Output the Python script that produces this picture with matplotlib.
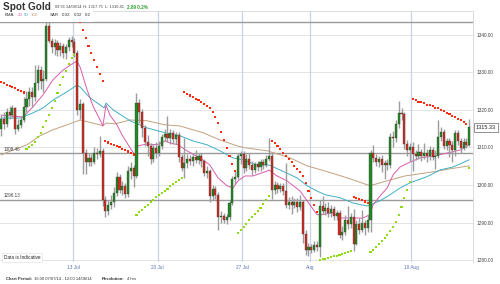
import matplotlib
matplotlib.use('Agg')
import matplotlib.pyplot as plt
import matplotlib.transforms as mtrans
from matplotlib.patches import Rectangle

plt.rcParams['font.family'] = ['Liberation Sans', 'DejaVu Sans']

# ---------------- data ----------------
opens = [1314.8,1317.5,1316.2,1319.5,1318.6,1320.4,1315.0,1316.0,1317.4,1320.8,
         1322.8,1324.8,1323.4,1327.2,1330.6,1327.8,1328.3,1342.4,1338.4,1336.6,
         1337.8,1335.8,1337.0,1335.2,1336.8,1338.5,1338.0,1335.0,1320.0,1321.5,
         1308.5,1306.0,1307.2,1306.2,1308.6,1308.3,1309.0,1296.0,1293.2,1294.8,
         1295.5,1297.8,1302.2,1298.6,1299.8,1297.6,1303.8,1304.6,1302.5,1321.8,
         1319.5,1315.2,1311.5,1310.4,1306.8,1309.8,1308.6,1310.4,1312.8,1313.6,
         1312.4,1313.8,1312.2,1313.4,1307.4,1304.6,1305.8,1307.0,1306.4,1307.4,
         1306.6,1307.6,1306.4,1303.2,1303.6,1297.0,1298.8,1297.4,1291.4,1291.8,
         1290.8,1291.4,1295.2,1301.6,1302.2,1307.6,1308.2,1304.6,1306.8,1305.2,
         1304.0,1305.6,1304.8,1306.2,1305.4,1307.0,1307.8,1298.6,1300.0,1299.0,
         1299.6,1298.4,1294.8,1295.6,1294.6,1295.4,1294.2,1295.4,1287.0,1282.6,
         1283.4,1282.8,1284.0,1283.6,1294.4,1293.2,1294.0,1292.6,1293.6,1291.8,
         1292.6,1286.6,1287.6,1290.6,1289.6,1291.6,1284.4,1289.6,1288.0,1289.8,
         1288.6,1290.8,1308.4,1307.2,1306.0,1306.8,1305.4,1305.8,1305.2,1312.8,
         1312.4,1316.2,1319.2,1318.8,1311.0,1309.4,1310.2,1308.2,1307.6,1308.8,
         1307.8,1308.6,1307.8,1309.2,1307.4,1307.8,1312.8,1314.2,1310.4,1311.6,
         1310.6,1309.2,1313.8,1311.8,1309.8,1311.4,1310.6]
highs = [1318.5,1319.5,1320.5,1321.0,1321.4,1320.8,1317.6,1318.2,1323.4,1325.0,
         1326.0,1326.2,1331.8,1332.0,1331.6,1330.5,1343.5,1344.0,1339.2,1338.8,
         1338.6,1338.0,1337.8,1337.6,1339.4,1339.6,1339.0,1336.0,1323.0,1322.0,
         1309.5,1308.6,1308.2,1310.0,1309.8,1313.0,1309.8,1297.0,1296.0,1297.2,
         1299.5,1303.5,1303.0,1301.0,1300.6,1305.0,1306.0,1305.4,1324.5,1322.8,
         1320.2,1316.0,1313.2,1311.2,1311.0,1311.5,1311.6,1313.6,1315.0,1318.4,
         1314.8,1314.6,1314.2,1314.0,1308.2,1312.6,1308.2,1308.0,1308.6,1309.4,
         1308.4,1308.4,1307.0,1305.0,1304.2,1300.0,1299.6,1298.2,1293.0,1292.6,
         1292.2,1296.0,1302.4,1303.6,1308.4,1309.0,1309.0,1308.2,1308.6,1306.4,
         1306.2,1306.4,1307.0,1307.0,1308.0,1312.4,1308.6,1301.0,1300.8,1300.6,
         1300.4,1305.8,1296.8,1297.0,1296.6,1296.4,1297.2,1296.0,1288.0,1284.6,
         1284.2,1285.0,1285.2,1296.0,1297.0,1295.2,1295.4,1294.8,1294.4,1293.4,
         1293.4,1289.0,1292.0,1294.4,1292.6,1293.6,1290.6,1291.2,1293.4,1290.8,
         1292.0,1309.2,1310.6,1308.2,1307.8,1308.0,1306.6,1306.8,1313.8,1314.4,
         1317.2,1322.4,1320.4,1319.4,1312.0,1311.2,1311.4,1309.4,1310.8,1309.6,
         1311.2,1309.6,1310.4,1310.2,1309.2,1317.2,1315.4,1315.0,1312.6,1312.4,
         1311.6,1314.6,1314.6,1312.6,1312.4,1312.4,1317.6]
lows = [1313.0,1315.0,1315.5,1317.5,1317.8,1313.5,1314.3,1315.2,1316.8,1319.5,
        1321.0,1320.8,1322.4,1325.2,1325.6,1324.8,1327.8,1337.8,1335.2,1334.5,
        1334.4,1334.2,1333.8,1333.5,1335.6,1336.8,1334.0,1318.5,1317.5,1302.8,
        1303.0,1305.0,1305.0,1305.5,1306.8,1307.5,1294.5,1291.5,1292.0,1293.5,
        1294.2,1297.0,1297.8,1297.2,1296.4,1296.8,1301.5,1299.5,1301.8,1316.5,
        1312.8,1310.5,1307.8,1305.5,1306.2,1307.2,1307.8,1309.6,1311.8,1311.5,
        1311.0,1310.8,1311.0,1306.2,1303.6,1301.8,1304.6,1305.4,1305.0,1305.8,
        1305.6,1304.8,1302.4,1301.8,1295.6,1296.0,1296.2,1288.0,1289.8,1289.8,
        1289.6,1290.8,1294.6,1300.2,1301.6,1305.6,1303.2,1303.6,1304.2,1302.6,
        1303.2,1303.8,1303.6,1304.2,1304.8,1306.4,1296.2,1297.6,1297.8,1298.0,
        1297.4,1294.0,1293.6,1292.4,1293.8,1292.8,1293.4,1284.6,1281.4,1281.2,
        1281.8,1282.2,1282.4,1280.8,1292.4,1292.0,1291.6,1291.4,1290.8,1290.6,
        1285.8,1285.4,1286.6,1288.4,1288.6,1282.4,1284.0,1287.0,1287.4,1286.8,
        1287.6,1287.6,1306.0,1305.0,1304.8,1303.4,1301.6,1304.0,1304.6,1310.0,
        1311.4,1315.2,1317.4,1309.6,1307.6,1306.4,1303.6,1306.6,1306.8,1306.4,
        1307.0,1306.2,1306.6,1306.6,1304.2,1307.2,1311.6,1309.6,1309.2,1307.4,
        1306.2,1307.6,1310.6,1308.6,1309.2,1309.8,1310.4]
closes = [1317.5,1316.2,1319.5,1318.6,1320.4,1315.0,1316.0,1317.4,1320.8,1322.8,
          1324.8,1323.4,1327.2,1330.6,1327.8,1328.3,1342.4,1338.4,1336.6,1337.8,
          1335.8,1337.0,1335.2,1336.8,1338.5,1338.0,1335.0,1320.0,1321.5,1308.5,
          1306.0,1307.2,1306.2,1308.6,1308.3,1309.0,1296.0,1293.2,1294.8,1295.5,
          1297.8,1302.2,1298.6,1299.8,1297.6,1303.8,1304.6,1302.5,1321.8,1319.5,
          1315.2,1311.5,1310.4,1306.8,1309.8,1308.6,1310.4,1312.8,1313.6,1312.4,
          1313.8,1312.2,1313.4,1307.4,1304.6,1305.8,1307.0,1306.4,1307.4,1306.6,
          1307.6,1306.4,1303.2,1303.6,1297.0,1298.8,1297.4,1291.4,1291.8,1290.8,
          1291.4,1295.2,1301.6,1302.2,1307.6,1308.2,1304.6,1306.8,1305.2,1304.0,
          1305.6,1304.8,1306.2,1305.4,1307.0,1307.8,1298.6,1300.0,1299.0,1299.6,
          1298.4,1294.8,1295.6,1294.6,1295.4,1294.2,1295.4,1287.0,1282.6,1283.4,
          1282.8,1284.0,1283.6,1294.4,1293.2,1294.0,1292.6,1293.6,1291.8,1292.6,
          1286.6,1287.6,1290.6,1289.6,1291.6,1284.4,1289.6,1288.0,1289.8,1288.6,
          1290.8,1308.4,1307.2,1306.0,1306.8,1305.4,1305.8,1305.2,1312.8,1312.4,
          1316.2,1319.2,1318.8,1311.0,1309.4,1310.2,1308.2,1307.6,1308.8,1307.8,
          1308.6,1307.8,1309.2,1307.4,1307.8,1312.8,1314.2,1310.4,1311.6,1310.6,
          1309.2,1313.8,1311.8,1309.8,1311.4,1310.6,1315.33]
sar = [1327.4,1327.1,1326.7,1326.4,1326.0,1325.7,1325.3,1324.9,1324.6,
       1309.6,1310.1,1310.7,1311.5,1312.8,1313.9,1315.5,1317.1,1318.6,1320.5,
       1322.4,1324.5,1326.6,1328.8,1330.4,1332.2,1333.8,1334.6,
       1344.5,1343.4,1341.3,1339.1,1337.0,1335.1,1333.3,1331.4,1329.5,1327.7,
       1311.7,1311.3,1310.9,1310.7,1310.4,1310.0,1309.6,1309.3,1308.9,1308.5,1308.1,
       1292.0,1292.8,1293.4,1294.2,1294.7,1295.5,1296.0,1296.8,1297.4,1297.9,
       1298.4,1298.9,1299.8,1300.3,1300.8,1301.4,1301.9,
       1324.8,1324.2,1323.8,1323.4,1322.9,1322.5,1322.1,1321.6,1321.0,1320.4,
       1319.4,1318.1,1316.5,1314.1,1312.0,1309.8,1307.7,1305.6,1303.8,
       1287.2,1288.1,1288.9,1289.7,1290.7,1291.5,1292.3,1293.1,1293.9,1295.0,1296.0,1297.1,
       1311.7,1311.2,1310.4,1309.6,1308.5,1307.7,1306.9,1306.1,1305.1,1304.3,
       1303.5,1302.4,1300.6,1298.4,1296.6,1294.7,1292.8,
       1280.1,1280.2,1280.3,1280.6,1280.9,1281.0,1281.1,1281.4,1281.7,1281.9,1282.2,1282.5,
       1296.8,1296.6,1296.2,1295.9,1295.6,1295.2,
       1282.2,1282.7,1283.5,1284.3,1285.1,1285.9,1286.7,1287.8,1288.9,1290.2,
       1292.0,1294.2,1296.6,1298.7,1300.8,
       1322.8,1322.5,1322.2,1322.0,1321.7,1321.4,1321.2,1320.9,1320.6,1320.4,
       1320.0,1319.6,1319.2,1318.8,1318.4,1318.0,1317.6,1317.2,1316.8,1316.3,
       1304.5]

ema20_i = [0,7.8,11.3,14.9,18.4,22.0,26.2,26.9,28.0,30.5,32.6,35.1,36.1,37.2,38.6,41.1,
           42.9,44.65,46.4,47.5,48.55,51.7,55.3,58.1,59.9,62.7,65.9,70.5,74.05,76.9,
           80.1,82.2,84.0,86.5,89.3,94.3,95.0,97.8,101.4,106.0,108.5,112.0,113.8,117.7,
           120.2,124.8,128.3,130.8,131.9,134.4,136.9,139.0,141.5,145.05,148.6,153.2,
           158.2,162.8,166.0]
ema20_v = [1318.6,1318.1,1320.8,1324.0,1328.0,1330.6,1332.7,1333.0,1331.4,1325.3,1321.0,
           1317.3,1315.7,1321.3,1318.6,1316.0,1313.3,1311.2,1309.1,1308.0,1310.4,1310.9,
           1310.7,1311.7,1311.2,1310.7,1309.1,1307.2,1305.3,1301.9,1299.8,1299.2,1301.1,
           1302.4,1302.4,1303.7,1304.0,1302.4,1301.1,1298.4,1295.8,1292.1,1292.1,1292.6,
           1291.2,1291.2,1291.2,1292.1,1294.7,1297.1,1299.2,1302.7,1304.8,1306.1,1307.2,
           1307.7,1308.5,1309.3,1310.7]
ema50_i = [0,6.7,11.3,14.9,18.4,23.4,26.9,28.0,31.5,35.1,36.5,37.2,39.7,45.7,51.7,58.1,
           63.4,68.1,73.0,77.6,82.2,85.8,90.7,95.0,98.9,104.9,108.5,112.0,114.9,120.2,
           124.8,129.8,130.8,134.4,137.9,141.5,145.05,151.0,155.7,160.3,166.0]
ema50_v = [1317.8,1317.8,1319.2,1320.5,1322.6,1324.8,1326.6,1326.1,1323.2,1321.3,1320.5,
           1321.8,1320.0,1317.1,1315.2,1313.9,1313.1,1311.7,1310.7,1309.1,1307.2,1306.7,
           1305.3,1305.3,1304.0,1301.9,1299.8,1298.4,1297.4,1296.6,1295.2,1294.4,1294.7,
           1295.8,1297.4,1299.2,1300.6,1302.2,1304.0,1304.8,1306.7]
ema100_i = [0,4.2,9.2,13.8,18.4,23.4,28.0,35.1,36.1,37.2,40.4,45.7,51.7,58.1,63.4,71.6,
            77.6,83.7,86.5,94.3,102.5,108.5,114.9,122.7,130.8,136.9,143.2,153.2,159.2,166.0]
ema100_v = [1308.0,1309.3,1310.7,1313.1,1314.7,1316.0,1317.3,1316.0,1315.7,1316.5,1316.25,
            1317.3,1317.1,1316.0,1315.7,1313.9,1312.0,1310.4,1309.9,1309.1,1307.2,1305.1,
            1303.7,1301.9,1299.8,1301.1,1302.4,1303.5,1304.3,1305.1]

week_pos = [25.5, 55.5, 85.5, 109.5, 145.5]
week_labels = ['13 Jul', '20 Jul', '27 Jul', 'Aug', '10 Aug']
price_ticks = [1280, 1290, 1300, 1310, 1320, 1330, 1340]
level_lines = [1343.4, 1308.46, 1296.13]
level_labels = ['', '1308.46', '1296.13']
last_price = 1315.33

# ---------------- style ----------------
C_UP = '#1f8a1f'
C_DN = '#d42a1c'
C_E20 = '#dc5aae'
C_E50 = '#3fb0c4'
C_E100 = '#c2a27e'
C_SAR_UP = '#8edc10'
C_SAR_DN = '#ff2a10'

W, H = 500, 284
fig = plt.figure(figsize=(W / 100, H / 100), dpi=100)
fig.patch.set_facecolor('white')
ax = fig.add_axes([0.0, 22 / H, 473 / W, 251 / H])
ax.set_xlim(-0.39, 167.34)
ax.set_ylim(1279.5, 1346.3)

# grid
for p in price_ticks:
    ax.axhline(p, color='#e4e4e4', lw=0.7, zorder=0)
for xp in week_pos:
    ax.axvline(xp, color='#c9d2ea', lw=0.9, zorder=0)
for lv, lab in zip(level_lines, level_labels):
    ax.axhline(lv, color='#9a9a9a', lw=1.0, zorder=1)
    if lab:
        ax.text(1.0, lv + 0.35, lab, fontsize=3.3, color='#444444', va='bottom', ha='left', zorder=6)

# EMA lines
ax.plot(ema100_i, ema100_v, color=C_E100, lw=0.7, zorder=2)
ax.plot(ema50_i, ema50_v, color=C_E50, lw=0.7, zorder=2)
ax.plot(ema20_i, ema20_v, color=C_E20, lw=0.7, zorder=2)

# candles
idx = list(range(len(closes)))
ax.vlines(idx, lows, highs, color='#9c9c9c', lw=1.0, zorder=3)
bottoms = [min(o, c) for o, c in zip(opens, closes)]
heights = [max(abs(c - o), 0.3) for o, c in zip(opens, closes)]
colors = [C_UP if c >= o else C_DN for o, c in zip(opens, closes)]
ax.bar(idx, heights, bottom=bottoms, width=0.74, color=colors,
       edgecolor='#3a3a3a', linewidth=0.25, zorder=4)

# SAR dots
sar_cols = [C_SAR_DN if s > c else C_SAR_UP for s, c in zip(sar, closes)]
ax.scatter(idx, sar, s=2.3, c=sar_cols, marker='s', linewidths=0, zorder=5)

# axes styling
for side in ['left', 'bottom']:
    ax.spines[side].set_visible(False)
for side in ['top', 'right']:
    ax.spines[side].set_color('#d6d6d6')
    ax.spines[side].set_linewidth(0.6)
ax.yaxis.tick_right()
ax.set_yticks(price_ticks)
ax.set_yticklabels(['%.2f' % p for p in price_ticks])
ax.tick_params(axis='y', length=0, pad=2.5, labelsize=3.4, labelcolor='#444444')
ax.set_xticks(week_pos)
ax.set_xticklabels(week_labels)
ax.tick_params(axis='x', length=0, pad=2.0, labelsize=3.4, labelcolor='#5a72b0')

# last price tag
tr = mtrans.blended_transform_factory(ax.transAxes, ax.transData)
ax.text(1.006, last_price, '%.2f' % last_price, transform=tr, fontsize=4.0, va='center', ha='left',
        color='#222222', bbox=dict(boxstyle='square,pad=0.3', fc='white', ec='#666666', lw=0.5),
        zorder=10, clip_on=False)

# legend box at top-left (covers the top level line)
ax.add_patch(Rectangle((0, (262 - 21.5) / 251), 93 / 473, 1.0, transform=ax.transAxes,
                       facecolor='white', edgecolor='none', zorder=8, clip_on=False))
ly = 1 - 15.5 / H
legend_items = [(5, 'EMA', '#333333'), (18, '20', C_E20), (24, '50', C_E50), (31, '100', C_E100),
                (50, 'SAR', '#333333'), (62, '0.02', '#333333'), (74, '0.02', '#333333'),
                (85, '0.2', '#333333')]
for lx, txt, col in legend_items:
    fig.text(lx / W, ly, txt, fontsize=3.2, color=col, va='center', zorder=9)

# Data is indicative
ax.text(1.0, 1280.6, 'Data is Indicative', fontsize=3.4, color='#222222', va='center', ha='left',
        bbox=dict(boxstyle='square,pad=0.4', fc='white', ec='#dddddd', lw=0.4), zorder=9)

# header
hy = 1 - 7.5 / H
fig.text(3 / W, hy, 'Spot Gold', fontsize=7.2, fontweight='bold', color='#333333', va='center')
fig.text(55 / W, hy, '09:55 14/08/14', fontsize=2.9, color='#444444', va='center')
fig.text(83 / W, hy, 'H: 1317.75', fontsize=2.9, color='#444444', va='center')
fig.text(105 / W, hy, 'L: 1310.41', fontsize=2.9, color='#444444', va='center')
fig.text(127 / W, hy, '2.89 0.2%', fontsize=3.3, fontweight='bold', color='#2aa02a', va='center')

# footer
fy = 1 - 279 / H
fig.text(6 / W, fy, 'Chart Period:', fontsize=3.0, fontweight='bold', color='#333333', va='center')
fig.text(34 / W, fy, '16:00 07/07/14 - 12:00 14/08/14', fontsize=3.0, color='#333333', va='center')
fig.text(102 / W, fy, 'Resolution:', fontsize=3.0, fontweight='bold', color='#333333', va='center')
fig.text(127 / W, fy, '4 hrs', fontsize=3.0, color='#333333', va='center')

fig.savefig('out.png', dpi=100)
